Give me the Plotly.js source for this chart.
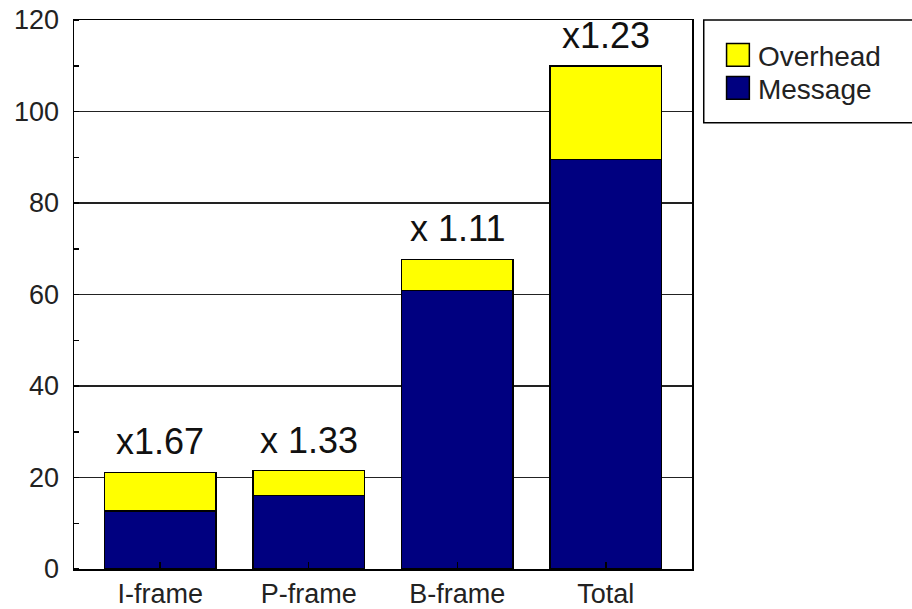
<!DOCTYPE html>
<html>
<head>
<meta charset="utf-8">
<script src="https://cdn.plot.ly/plotly-3.0.1.min.js"></script>
<style>html,body{margin:0;padding:0;background:#fff;}#chart{width:912px;height:609px;}</style>
</head>
<body>
<div id="chart"></div>
<script>
const categories = ["I-frame", "P-frame", "B-frame", "Total"];
const messageValues = [12.7, 16.1, 60.9, 89.5];
const overheadValues = [8.4, 5.4, 6.8, 20.5];
const ratioLabels = ["x1.67", "x 1.33", "x 1.11", "x1.23"];
const yTickValues = [0, 20, 40, 60, 80, 100, 120];

const font = {family: "Liberation Sans, Arial, sans-serif", color: "#000"};

const traces = [
  {
    type: "bar", name: "Message", x: categories, y: messageValues,
    marker: {color: "#000080", line: {color: "#000", width: 1.5}},
    width: 0.75, hoverinfo: "skip"
  },
  {
    type: "bar", name: "Overhead", x: categories, y: overheadValues,
    marker: {color: "#FFFF00", line: {color: "#000", width: 1.5}},
    width: 0.75, hoverinfo: "skip"
  }
];

const annotations = categories.map((c, i) => ({
  x: c, y: messageValues[i] + overheadValues[i],
  xref: "x", yref: "y", text: ratioLabels[i],
  showarrow: false, yanchor: "bottom", yshift: 8,
  font: Object.assign({}, font, {size: 36, color: "#111"})
}));

const layout = {
  width: 912, height: 609,
  margin: {l: 74, r: 220, t: 20, b: 40},
  paper_bgcolor: "#fff", plot_bgcolor: "#fff",
  barmode: "stack",
  showlegend: true,
  font: Object.assign({}, font, {size: 27}),
  xaxis: {
    range: [-0.58, 3.58], showline: true, mirror: true,
    linecolor: "#000", linewidth: 1.5,
    ticks: "inside", ticklen: 7, tickcolor: "#000", tickwidth: 1.5,
    tickfont: Object.assign({}, font, {size: 27, color: "#222"}),
    showgrid: false, zeroline: false, fixedrange: true, layer: "above traces"
  },
  yaxis: {
    range: [0, 120], tickvals: yTickValues, showline: true, mirror: true,
    linecolor: "#000", linewidth: 1.5,
    ticks: "", showgrid: true, gridcolor: "#222", gridwidth: 1.2,
    minor: {ticks: "inside", dtick: 10, ticklen: 5, tickcolor: "#000", tickwidth: 1.5, showgrid: false},
    tickfont: Object.assign({}, font, {size: 27, color: "#222"}),
    zeroline: false, fixedrange: true, ticklabelstandoff: 8
  },
  legend: {
    x: 1.042, y: 0.989, xanchor: "left", yanchor: "top",
    traceorder: "reversed",
    borderwidth: 0, bgcolor: "rgba(0,0,0,0)",
    font: Object.assign({}, font, {size: 28, color: "#222"}),
    itemwidth: 30
  },
  shapes: [{
    type: "rect", xref: "paper", yref: "paper",
    x0: 1.019, x1: 1.40, y0: 0.8127, y1: 1.0,
    line: {color: "#000", width: 1.5}, fillcolor: "rgba(0,0,0,0)", layer: "below"
  }],
  annotations: annotations
};

Plotly.newPlot("chart", traces, layout, {displayModeBar: false, staticPlot: true}).then(gd => {
  gd.querySelectorAll(".legend .legendpoints path").forEach(p => {
    const t = p.getAttribute("transform") || "";
    p.setAttribute("transform", t + " scale(1.9)");
    p.style.vectorEffect = "non-scaling-stroke";
  });
  const items = Array.from(gd.querySelectorAll(".legend .traces"));
  if (items.length === 2) {
    const parse = el => {
      const m = /translate\(\s*([-\d.]+)[ ,]+([-\d.]+)\s*\)/.exec(el.getAttribute("transform") || "");
      return m ? [parseFloat(m[1]), parseFloat(m[2])] : null;
    };
    const a = parse(items[0]), b = parse(items[1]);
    if (a && b) {
      const mid = (a[1] + b[1]) / 2 + 1;
      items[0].setAttribute("transform", `translate(${a[0]},${mid - 16.5})`);
      items[1].setAttribute("transform", `translate(${b[0]},${mid + 16.5})`);
    }
  }
});
</script>
</body>
</html>
